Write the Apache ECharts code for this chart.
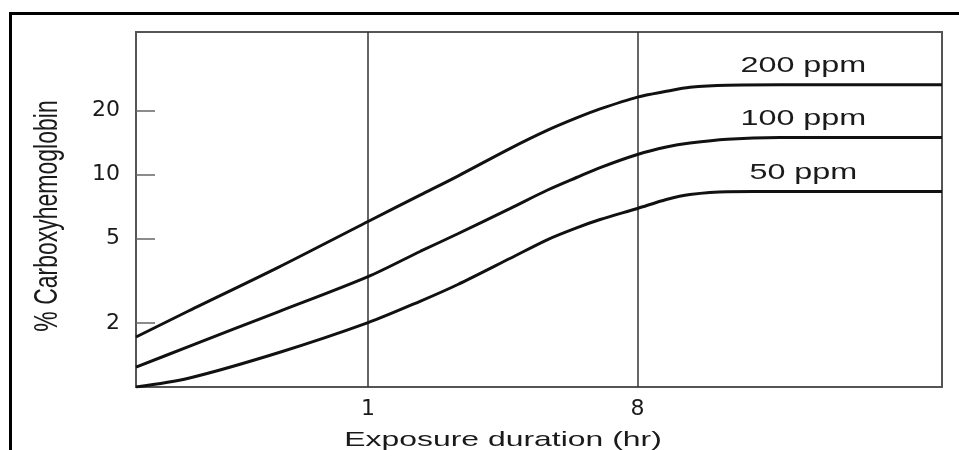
<!DOCTYPE html>
<html>
<head>
<meta charset="utf-8">
<title>Carboxyhemoglobin vs exposure duration</title>
<script src="https://cdn.jsdelivr.net/npm/echarts@6/dist/echarts.min.js"></script>
<style>
  html, body { margin: 0; padding: 0; background: #fff; }
  #chart { width: 959px; height: 450px; }
</style>
</head>
<body>
<div id="chart"></div>
<script>
// Exposure time in hours (log scale)
const hours = [0.1667, 0.25, 0.5, 1, 1.5, 2, 3, 4, 5, 6, 8, 10, 12, 16, 24, 84];

// % carboxyhemoglobin at each exposure time, per CO concentration
const ppm200 = [1.72, 2.28, 3.66, 6.02, 8.03, 9.85, 13.3, 16.2, 18.5, 20.4, 23.2, 24.7, 25.8, 26.4, 26.5, 26.5];
const ppm100 = [1.24, 1.55, 2.26, 3.31, 4.36, 5.27, 6.94, 8.47, 9.7, 10.8, 12.45, 13.5, 14.1, 14.7, 14.95, 14.95];
const ppm50  = [1.0, 1.10, 1.45, 2.01, 2.54, 3.04, 4.04, 4.95, 5.62, 6.15, 6.93, 7.64, 8.07, 8.32, 8.33, 8.33];

const seriesNames = ['200 ppm', '100 ppm', '50 ppm'];
const seriesValues = [ppm200, ppm100, ppm50];

// Axis ticks
const xTicks = [1, 8];
const yTicks = [2, 5, 10, 20];

const xName = 'Exposure duration (hr)';
const yName = '% Carboxyhemoglobin';

// Position of the concentration labels along the time axis
const labelHour = 28.8;

const ink = '#1a1a1a';
const frame = '#555';

const chart = echarts.init(document.getElementById('chart'), null, { renderer: 'canvas' });

function pairs(vals) {
  return hours.map((h, i) => [h, vals[i]]);
}

const series = seriesValues.map((vals, i) => ({
  name: seriesNames[i],
  type: 'line',
  data: pairs(vals),
  smooth: 0.3,
  showSymbol: false,
  symbol: 'none',
  lineStyle: { color: '#111', width: 3 },
  z: 5
}));

// vertical reference lines at the labelled exposure times
series[2].markLine = {
  silent: true,
  symbol: ['none', 'none'],
  label: { show: false },
  lineStyle: { color: '#333', width: 1.5, type: 'solid' },
  data: xTicks.map(v => ({ xAxis: v })),
  z: 3
};

chart.setOption({
  animation: false,
  backgroundColor: '#fff',
  grid: {
    left: 136, top: 32, right: 17, bottom: 63,
    show: true, borderColor: frame, borderWidth: 2, backgroundColor: 'transparent'
  },
  xAxis: {
    type: 'log',
    logBase: 10,
    min: hours[0],
    max: hours[hours.length - 1],
    axisLine: { show: true, lineStyle: { color: frame, width: 2 } },
    axisTick: { show: false, customValues: xTicks },
    axisLabel: {
      customValues: xTicks,
      formatter: v => String(Math.round(v)),
      fontFamily: 'DejaVu Sans', fontSize: 22, color: ink, margin: 11
    },
    splitLine: { show: false },
    minorTick: { show: false }
  },
  yAxis: {
    type: 'log',
    logBase: 10,
    min: 1,
    max: 47,
    axisLine: { show: true, lineStyle: { color: frame, width: 2 } },
    axisTick: { show: true, inside: true, length: 19, customValues: yTicks,
                lineStyle: { color: '#666', width: 1.5 } },
    axisLabel: {
      customValues: yTicks,
      formatter: v => String(Math.round(v)),
      fontFamily: 'DejaVu Sans', fontSize: 22, color: ink, margin: 16
    },
    splitLine: { show: false },
    minorTick: { show: false }
  },
  series: series
});

// Concentration labels above the plateau of each curve, plus axis titles and outer frame
const textFont = '"Liberation Sans", Arial, sans-serif';
const graphics = [];

seriesNames.forEach((name, i) => {
  const vals = seriesValues[i];
  const p = chart.convertToPixel({ gridIndex: 0 }, [labelHour, vals[vals.length - 1]]);
  graphics.push({
    type: 'text',
    x: p[0], y: p[1] - 19,
    scaleX: 1.47,
    z: 10,
    style: { text: name, font: '22px ' + textFont, fill: ink, align: 'center', verticalAlign: 'middle' }
  });
});

graphics.push({
  type: 'text',
  x: 503, y: 440,
  scaleX: 1.52,
  z: 10,
  style: { text: xName, font: '21px ' + textFont, fill: ink, align: 'center', verticalAlign: 'middle' }
});

graphics.push({
  type: 'text',
  x: 48, y: 216,
  rotation: Math.PI / 2,
  scaleY: 1.45,
  z: 10,
  style: { text: yName, font: '23px ' + textFont, fill: ink, align: 'center', verticalAlign: 'middle' }
});

graphics.push({
  type: 'rect',
  shape: { x: 10.5, y: 13.5, width: 1000, height: 500 },
  style: { fill: 'none', stroke: '#000', lineWidth: 3 },
  z: 10,
  silent: true
});

chart.setOption({ graphic: graphics });
</script>
</body>
</html>
